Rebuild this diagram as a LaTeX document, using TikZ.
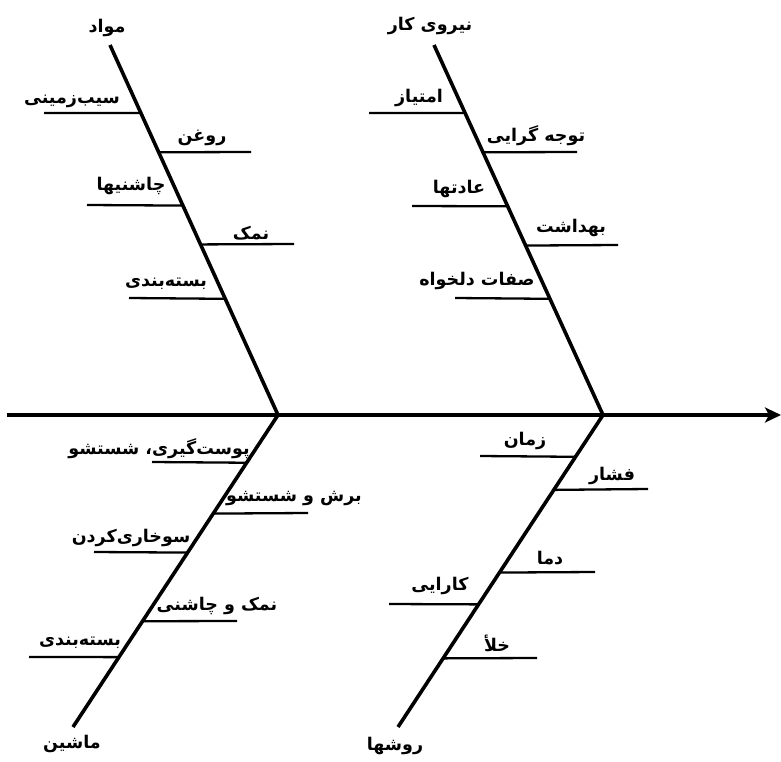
\documentclass[tikz,border=0pt]{standalone}
\usepackage{fontspec}
\TeXXeTstate=1
\newfontfamily\arabicfont[Script=Arabic]{DejaVu Sans}
\usetikzlibrary{calc,arrows.meta}
\begin{document}
\begin{tikzpicture}[x=1pt,y=-1pt,
  bone/.style={line width=3.6pt},
  twig/.style={line width=2.3pt},
  lbl/.style={font=\arabicfont\bfseries\fontsize{17.5}{20}\selectfont, inner sep=0pt, anchor=center, yshift=-1pt}]
\useasboundingbox (0,0) rectangle (781,762);

% spine
\coordinate (s0) at (7,415);
\coordinate (s1) at (781,415);
\coordinate (j1) at (278,415);
\coordinate (j2) at (603,415);
\draw[bone,-{Stealth[length=16pt,width=15pt,inset=4pt]}] (s0) -- (s1);

% bone ends
\coordinate (mt) at (110,45);
\coordinate (nt) at (434,45);
\coordinate (mb) at (73,727);
\coordinate (rb) at (398,727);
\draw[bone] (mt) -- (j1);
\draw[bone] (nt) -- (j2);
\draw[bone] (j1) -- (mb);
\draw[bone] (j2) -- (rb);

% heads
\node[lbl] (hm) at (107,27) {\beginR مواد\endR};
\node[lbl] (hn) at (430,25) {\beginR نیروی کار\endR};
\node[lbl] (hs) at (72,743) {\beginR ماشین\endR};
\node[lbl] (hr) at (395,745) {\beginR روشها\endR};

% top-left twigs
\coordinate (a1) at (44,113);  \draw[twig] (a1) -- ($(mt)!0.184!(j1)$);
\coordinate (a2) at (251,152); \draw[twig] (a2) -- ($(mt)!0.290!(j1)$);
\coordinate (a3) at (87,205);  \draw[twig] (a3) -- ($(mt)!0.434!(j1)$);
\coordinate (a4) at (294,244); \draw[twig] (a4) -- ($(mt)!0.539!(j1)$);
\coordinate (a5) at (129,298); \draw[twig] (a5) -- ($(mt)!0.686!(j1)$);
\node[lbl] (ta1) at (72,100)  {\beginR سیب‌زمینی\endR};
\node[lbl] (ta2) at (202,137) {\beginR روغن\endR};
\node[lbl] (ta3) at (131,185) {\beginR چاشنیها\endR};
\node[lbl] (ta4) at (251,232) {\beginR نمک\endR};
\node[lbl] (ta5) at (166,283) {\beginR بسته‌بندی\endR};

% top-right twigs
\coordinate (b1) at (369,113); \draw[twig] (b1) -- ($(nt)!0.184!(j2)$);
\coordinate (b2) at (577,152); \draw[twig] (b2) -- ($(nt)!0.290!(j2)$);
\coordinate (b3) at (412,206); \draw[twig] (b3) -- ($(nt)!0.436!(j2)$);
\coordinate (b4) at (618,245); \draw[twig] (b4) -- ($(nt)!0.542!(j2)$);
\coordinate (b5) at (455,298); \draw[twig] (b5) -- ($(nt)!0.686!(j2)$);
\node[lbl] (tb1) at (419,97)  {\beginR امتیاز\endR};
\node[lbl] (tb2) at (536,135) {\beginR توجه گرایی\endR};
\node[lbl] (tb3) at (459,188) {\beginR عادتها\endR};
\node[lbl] (tb4) at (571,227) {\beginR بهداشت\endR};
\node[lbl] (tb5) at (477,280) {\beginR صفات دلخواه\endR};

% bottom-left twigs
\coordinate (c1) at (152,462); \draw[twig] (c1) -- ($(j1)!0.153!(mb)$);
\coordinate (c2) at (308,513); \draw[twig] (c2) -- ($(j1)!0.316!(mb)$);
\coordinate (c3) at (94,552);  \draw[twig] (c3) -- ($(j1)!0.441!(mb)$);
\coordinate (c4) at (237,621); \draw[twig] (c4) -- ($(j1)!0.661!(mb)$);
\coordinate (c5) at (29,657);  \draw[twig] (c5) -- ($(j1)!0.776!(mb)$);
\node[lbl] (tc1) at (159,448) {\beginR پوست‌گیری، شستشو\endR};
\node[lbl] (tc2) at (294,498) {\beginR برش و شستشو\endR};
\node[lbl] (tc3) at (131,537) {\beginR سوخاری‌کردن\endR};
\node[lbl] (tc4) at (217,605) {\beginR نمک و چاشنی\endR};
\node[lbl] (tc5) at (80,642)  {\beginR بسته‌بندی\endR};

% bottom-right twigs
\coordinate (d1) at (480,456); \draw[twig] (d1) -- ($(j2)!0.134!(rb)$);
\coordinate (d2) at (648,489); \draw[twig] (d2) -- ($(j2)!0.240!(rb)$);
\coordinate (d3) at (595,572); \draw[twig] (d3) -- ($(j2)!0.505!(rb)$);
\coordinate (d4) at (389,604); \draw[twig] (d4) -- ($(j2)!0.607!(rb)$);
\coordinate (d5) at (537,658); \draw[twig] (d5) -- ($(j2)!0.780!(rb)$);
\node[lbl] (td1) at (525,440) {\beginR زمان\endR};
\node[lbl] (td2) at (612,475) {\beginR فشار\endR};
\node[lbl] (td3) at (550,557) {\beginR دما\endR};
\node[lbl] (td4) at (440,585) {\beginR کارایی\endR};
\node[lbl] (td5) at (497,642) {\beginR خلأ\endR};
\end{tikzpicture}
\end{document}
